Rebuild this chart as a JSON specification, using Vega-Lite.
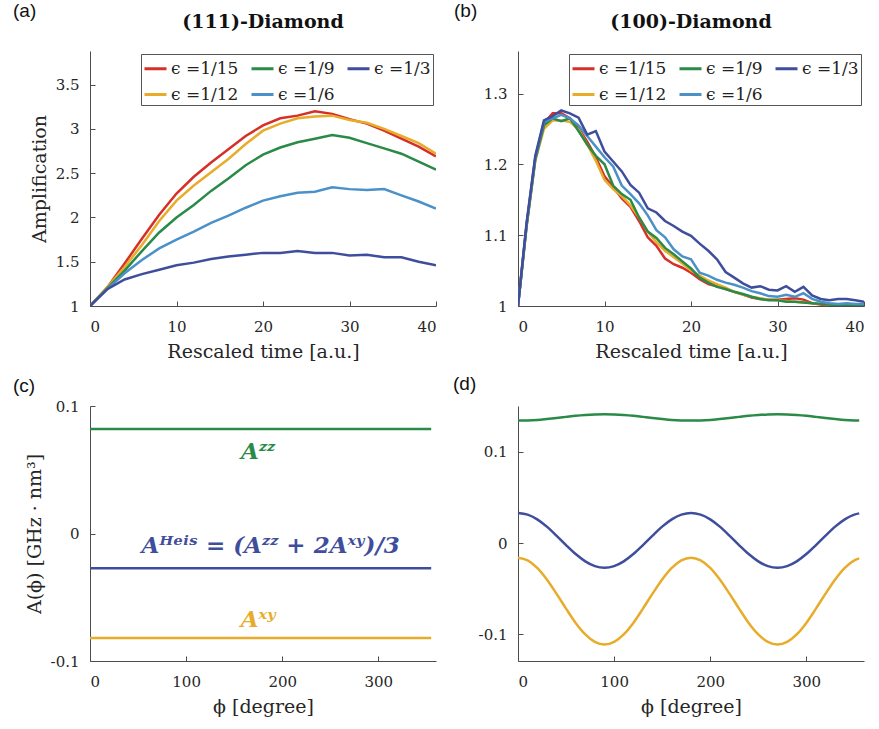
{
  "$schema": "https://vega.github.io/schema/vega-lite/v6.json",
  "background": "white",
  "padding": {"left": 13, "top": 2, "right": 5, "bottom": 5},
  "columns": 2,
  "spacing": {"row": 14, "column": 16},
  "resolve": {"scale": {"color": "independent"}, "legend": {"color": "independent"}},
  "config": {
    "view": {"stroke": null},
    "axis": {
      "grid": false,
      "domainColor": "#4d4d4d",
      "tickColor": "#4d4d4d",
      "tickSize": -5,
      "labelFont": "DejaVu Serif",
      "labelFontSize": 15,
      "labelColor": "#262626",
      "labelPadding": 16,
      "titleFont": "DejaVu Serif",
      "titleFontSize": 19,
      "titleFontWeight": "normal",
      "titleColor": "#262626",
      "titlePadding": 6
    },
    "axisX": {"labelPadding": 18, "titlePadding": 8},
    "title": {"font": "DejaVu Serif", "fontWeight": "bold", "fontSize": 19, "color": "#111111"}
  },
  "concat": [
    {
      "title": {"text": "(a)", "anchor": "start", "frame": "group", "font": "Liberation Sans", "fontWeight": "normal", "fontSize": 19, "dx": -77, "dy": 8, "offset": 0},
      "resolve": {"scale": {"color": "independent"}, "legend": {"color": "independent"}},
      "vconcat": [
        {
          "width": 346,
          "height": 255,
          "title": {"text": "(111)-Diamond", "offset": 19, "frame": "group"},
          "data": {"values": [
            {"eps":"ϵ =1/15","t":0,"amp":1},{"eps":"ϵ =1/15","t":2,"amp":1.21},{"eps":"ϵ =1/15","t":4,"amp":1.48},{"eps":"ϵ =1/15","t":6,"amp":1.76},{"eps":"ϵ =1/15","t":8,"amp":2.03},{"eps":"ϵ =1/15","t":10,"amp":2.27},{"eps":"ϵ =1/15","t":12,"amp":2.46},{"eps":"ϵ =1/15","t":14,"amp":2.62},{"eps":"ϵ =1/15","t":16,"amp":2.77},{"eps":"ϵ =1/15","t":18,"amp":2.92},{"eps":"ϵ =1/15","t":20,"amp":3.04},{"eps":"ϵ =1/15","t":22,"amp":3.12},{"eps":"ϵ =1/15","t":24,"amp":3.15},{"eps":"ϵ =1/15","t":26,"amp":3.2},{"eps":"ϵ =1/15","t":28,"amp":3.17},{"eps":"ϵ =1/15","t":30,"amp":3.11},{"eps":"ϵ =1/15","t":32,"amp":3.06},{"eps":"ϵ =1/15","t":34,"amp":2.98},{"eps":"ϵ =1/15","t":36,"amp":2.89},{"eps":"ϵ =1/15","t":38,"amp":2.8},{"eps":"ϵ =1/15","t":40,"amp":2.69},
            {"eps":"ϵ =1/12","t":0,"amp":1},{"eps":"ϵ =1/12","t":2,"amp":1.21},{"eps":"ϵ =1/12","t":4,"amp":1.44},{"eps":"ϵ =1/12","t":6,"amp":1.69},{"eps":"ϵ =1/12","t":8,"amp":1.96},{"eps":"ϵ =1/12","t":10,"amp":2.19},{"eps":"ϵ =1/12","t":12,"amp":2.36},{"eps":"ϵ =1/12","t":14,"amp":2.51},{"eps":"ϵ =1/12","t":16,"amp":2.66},{"eps":"ϵ =1/12","t":18,"amp":2.83},{"eps":"ϵ =1/12","t":20,"amp":2.98},{"eps":"ϵ =1/12","t":22,"amp":3.06},{"eps":"ϵ =1/12","t":24,"amp":3.12},{"eps":"ϵ =1/12","t":26,"amp":3.14},{"eps":"ϵ =1/12","t":28,"amp":3.15},{"eps":"ϵ =1/12","t":30,"amp":3.1},{"eps":"ϵ =1/12","t":32,"amp":3.07},{"eps":"ϵ =1/12","t":34,"amp":3.0},{"eps":"ϵ =1/12","t":36,"amp":2.92},{"eps":"ϵ =1/12","t":38,"amp":2.84},{"eps":"ϵ =1/12","t":40,"amp":2.72},
            {"eps":"ϵ =1/9","t":0,"amp":1},{"eps":"ϵ =1/9","t":2,"amp":1.2},{"eps":"ϵ =1/9","t":4,"amp":1.4},{"eps":"ϵ =1/9","t":6,"amp":1.62},{"eps":"ϵ =1/9","t":8,"amp":1.83},{"eps":"ϵ =1/9","t":10,"amp":2.0},{"eps":"ϵ =1/9","t":12,"amp":2.14},{"eps":"ϵ =1/9","t":14,"amp":2.3},{"eps":"ϵ =1/9","t":16,"amp":2.44},{"eps":"ϵ =1/9","t":18,"amp":2.59},{"eps":"ϵ =1/9","t":20,"amp":2.71},{"eps":"ϵ =1/9","t":22,"amp":2.79},{"eps":"ϵ =1/9","t":24,"amp":2.85},{"eps":"ϵ =1/9","t":26,"amp":2.89},{"eps":"ϵ =1/9","t":28,"amp":2.93},{"eps":"ϵ =1/9","t":30,"amp":2.9},{"eps":"ϵ =1/9","t":32,"amp":2.84},{"eps":"ϵ =1/9","t":34,"amp":2.78},{"eps":"ϵ =1/9","t":36,"amp":2.72},{"eps":"ϵ =1/9","t":38,"amp":2.63},{"eps":"ϵ =1/9","t":40,"amp":2.54},
            {"eps":"ϵ =1/6","t":0,"amp":1},{"eps":"ϵ =1/6","t":2,"amp":1.19},{"eps":"ϵ =1/6","t":4,"amp":1.37},{"eps":"ϵ =1/6","t":6,"amp":1.52},{"eps":"ϵ =1/6","t":8,"amp":1.65},{"eps":"ϵ =1/6","t":10,"amp":1.75},{"eps":"ϵ =1/6","t":12,"amp":1.84},{"eps":"ϵ =1/6","t":14,"amp":1.94},{"eps":"ϵ =1/6","t":16,"amp":2.02},{"eps":"ϵ =1/6","t":18,"amp":2.11},{"eps":"ϵ =1/6","t":20,"amp":2.19},{"eps":"ϵ =1/6","t":22,"amp":2.24},{"eps":"ϵ =1/6","t":24,"amp":2.28},{"eps":"ϵ =1/6","t":26,"amp":2.29},{"eps":"ϵ =1/6","t":28,"amp":2.34},{"eps":"ϵ =1/6","t":30,"amp":2.32},{"eps":"ϵ =1/6","t":32,"amp":2.31},{"eps":"ϵ =1/6","t":34,"amp":2.32},{"eps":"ϵ =1/6","t":36,"amp":2.25},{"eps":"ϵ =1/6","t":38,"amp":2.18},{"eps":"ϵ =1/6","t":40,"amp":2.1},
            {"eps":"ϵ =1/3","t":0,"amp":1},{"eps":"ϵ =1/3","t":2,"amp":1.19},{"eps":"ϵ =1/3","t":4,"amp":1.3},{"eps":"ϵ =1/3","t":6,"amp":1.36},{"eps":"ϵ =1/3","t":8,"amp":1.41},{"eps":"ϵ =1/3","t":10,"amp":1.46},{"eps":"ϵ =1/3","t":12,"amp":1.49},{"eps":"ϵ =1/3","t":14,"amp":1.53},{"eps":"ϵ =1/3","t":16,"amp":1.56},{"eps":"ϵ =1/3","t":18,"amp":1.58},{"eps":"ϵ =1/3","t":20,"amp":1.6},{"eps":"ϵ =1/3","t":22,"amp":1.6},{"eps":"ϵ =1/3","t":24,"amp":1.62},{"eps":"ϵ =1/3","t":26,"amp":1.6},{"eps":"ϵ =1/3","t":28,"amp":1.6},{"eps":"ϵ =1/3","t":30,"amp":1.57},{"eps":"ϵ =1/3","t":32,"amp":1.58},{"eps":"ϵ =1/3","t":34,"amp":1.55},{"eps":"ϵ =1/3","t":36,"amp":1.55},{"eps":"ϵ =1/3","t":38,"amp":1.5},{"eps":"ϵ =1/3","t":40,"amp":1.46}
          ]},
          "mark": {"type": "line", "strokeWidth": 2.5, "clip": true},
          "encoding": {
            "x": {"field": "t", "type": "quantitative", "scale": {"domain": [0, 40], "nice": false}, "axis": {"values": [0, 10, 20, 30, 40], "title": "Rescaled time [a.u.]"}},
            "y": {"field": "amp", "type": "quantitative", "scale": {"domain": [1, 3.88], "nice": false, "zero": false}, "axis": {"values": [1, 1.5, 2, 2.5, 3, 3.5], "format": ".1~f", "title": "Amplification"}},
            "color": {"field": "eps", "type": "nominal",
              "scale": {"domain": ["ϵ =1/15", "ϵ =1/9", "ϵ =1/3", "ϵ =1/12", "ϵ =1/6"], "range": ["#d62f27", "#2a8a47", "#3f4e9c", "#e8ac2b", "#4b91c8"]},
              "legend": {"title": null, "orient": "top-right", "offset": 3, "columns": 3, "direction": "horizontal", "symbolType": "stroke", "symbolSize": 484, "symbolStrokeWidth": 3, "labelFont": "DejaVu Serif", "labelFontSize": 17, "labelColor": "#222222", "labelOffset": 3, "strokeColor": "#555555", "fillColor": "white", "padding": 2, "rowPadding": 5, "columnPadding": 6}}
          }
        }
      ]
    },
    {
      "title": {"text": "(b)", "anchor": "start", "frame": "group", "font": "Liberation Sans", "fontWeight": "normal", "fontSize": 19, "dx": -64, "dy": 8, "offset": 0},
      "resolve": {"scale": {"color": "independent"}, "legend": {"color": "independent"}},
      "vconcat": [
        {
          "width": 346,
          "height": 255,
          "title": {"text": "(100)-Diamond", "offset": 19, "frame": "group"},
          "data": {"values": [
            {"eps":"ϵ =1/15","t":0,"amp":1},{"eps":"ϵ =1/15","t":1,"amp":1.115},{"eps":"ϵ =1/15","t":2,"amp":1.208},{"eps":"ϵ =1/15","t":3,"amp":1.258},{"eps":"ϵ =1/15","t":4,"amp":1.272},{"eps":"ϵ =1/15","t":5,"amp":1.272},{"eps":"ϵ =1/15","t":6,"amp":1.265},{"eps":"ϵ =1/15","t":7,"amp":1.251},{"eps":"ϵ =1/15","t":8,"amp":1.232},{"eps":"ϵ =1/15","t":9,"amp":1.21},{"eps":"ϵ =1/15","t":10,"amp":1.183},{"eps":"ϵ =1/15","t":11,"amp":1.168},{"eps":"ϵ =1/15","t":12,"amp":1.152},{"eps":"ϵ =1/15","t":13,"amp":1.14},{"eps":"ϵ =1/15","t":14,"amp":1.12},{"eps":"ϵ =1/15","t":15,"amp":1.097},{"eps":"ϵ =1/15","t":16,"amp":1.085},{"eps":"ϵ =1/15","t":17,"amp":1.067},{"eps":"ϵ =1/15","t":18,"amp":1.059},{"eps":"ϵ =1/15","t":19,"amp":1.054},{"eps":"ϵ =1/15","t":20,"amp":1.047},{"eps":"ϵ =1/15","t":21,"amp":1.038},{"eps":"ϵ =1/15","t":22,"amp":1.031},{"eps":"ϵ =1/15","t":23,"amp":1.028},{"eps":"ϵ =1/15","t":24,"amp":1.024},{"eps":"ϵ =1/15","t":25,"amp":1.02},{"eps":"ϵ =1/15","t":26,"amp":1.016},{"eps":"ϵ =1/15","t":27,"amp":1.012},{"eps":"ϵ =1/15","t":28,"amp":1.01},{"eps":"ϵ =1/15","t":29,"amp":1.009},{"eps":"ϵ =1/15","t":30,"amp":1.009},{"eps":"ϵ =1/15","t":31,"amp":1.01},{"eps":"ϵ =1/15","t":32,"amp":1.011},{"eps":"ϵ =1/15","t":33,"amp":1.009},{"eps":"ϵ =1/15","t":34,"amp":1.004},{"eps":"ϵ =1/15","t":35,"amp":1.002},{"eps":"ϵ =1/15","t":36,"amp":1.0},{"eps":"ϵ =1/15","t":37,"amp":1.0},{"eps":"ϵ =1/15","t":38,"amp":1.0},{"eps":"ϵ =1/15","t":39,"amp":1.0},{"eps":"ϵ =1/15","t":40,"amp":1.0},
            {"eps":"ϵ =1/12","t":0,"amp":1},{"eps":"ϵ =1/12","t":1,"amp":1.112},{"eps":"ϵ =1/12","t":2,"amp":1.205},{"eps":"ϵ =1/12","t":3,"amp":1.25},{"eps":"ϵ =1/12","t":4,"amp":1.262},{"eps":"ϵ =1/12","t":5,"amp":1.262},{"eps":"ϵ =1/12","t":6,"amp":1.26},{"eps":"ϵ =1/12","t":7,"amp":1.249},{"eps":"ϵ =1/12","t":8,"amp":1.228},{"eps":"ϵ =1/12","t":9,"amp":1.205},{"eps":"ϵ =1/12","t":10,"amp":1.178},{"eps":"ϵ =1/12","t":11,"amp":1.165},{"eps":"ϵ =1/12","t":12,"amp":1.155},{"eps":"ϵ =1/12","t":13,"amp":1.142},{"eps":"ϵ =1/12","t":14,"amp":1.125},{"eps":"ϵ =1/12","t":15,"amp":1.105},{"eps":"ϵ =1/12","t":16,"amp":1.09},{"eps":"ϵ =1/12","t":17,"amp":1.078},{"eps":"ϵ =1/12","t":18,"amp":1.069},{"eps":"ϵ =1/12","t":19,"amp":1.06},{"eps":"ϵ =1/12","t":20,"amp":1.05},{"eps":"ϵ =1/12","t":21,"amp":1.043},{"eps":"ϵ =1/12","t":22,"amp":1.036},{"eps":"ϵ =1/12","t":23,"amp":1.031},{"eps":"ϵ =1/12","t":24,"amp":1.026},{"eps":"ϵ =1/12","t":25,"amp":1.02},{"eps":"ϵ =1/12","t":26,"amp":1.016},{"eps":"ϵ =1/12","t":27,"amp":1.013},{"eps":"ϵ =1/12","t":28,"amp":1.011},{"eps":"ϵ =1/12","t":29,"amp":1.009},{"eps":"ϵ =1/12","t":30,"amp":1.008},{"eps":"ϵ =1/12","t":31,"amp":1.007},{"eps":"ϵ =1/12","t":32,"amp":1.006},{"eps":"ϵ =1/12","t":33,"amp":1.005},{"eps":"ϵ =1/12","t":34,"amp":1.004},{"eps":"ϵ =1/12","t":35,"amp":1.003},{"eps":"ϵ =1/12","t":36,"amp":1.002},{"eps":"ϵ =1/12","t":37,"amp":1.001},{"eps":"ϵ =1/12","t":38,"amp":1.001},{"eps":"ϵ =1/12","t":39,"amp":1.0},{"eps":"ϵ =1/12","t":40,"amp":1.0},
            {"eps":"ϵ =1/9","t":0,"amp":1},{"eps":"ϵ =1/9","t":1,"amp":1.114},{"eps":"ϵ =1/9","t":2,"amp":1.207},{"eps":"ϵ =1/9","t":3,"amp":1.255},{"eps":"ϵ =1/9","t":4,"amp":1.265},{"eps":"ϵ =1/9","t":5,"amp":1.261},{"eps":"ϵ =1/9","t":6,"amp":1.265},{"eps":"ϵ =1/9","t":7,"amp":1.247},{"eps":"ϵ =1/9","t":8,"amp":1.228},{"eps":"ϵ =1/9","t":9,"amp":1.212},{"eps":"ϵ =1/9","t":10,"amp":1.2},{"eps":"ϵ =1/9","t":11,"amp":1.17},{"eps":"ϵ =1/9","t":12,"amp":1.158},{"eps":"ϵ =1/9","t":13,"amp":1.15},{"eps":"ϵ =1/9","t":14,"amp":1.125},{"eps":"ϵ =1/9","t":15,"amp":1.105},{"eps":"ϵ =1/9","t":16,"amp":1.096},{"eps":"ϵ =1/9","t":17,"amp":1.082},{"eps":"ϵ =1/9","t":18,"amp":1.073},{"eps":"ϵ =1/9","t":19,"amp":1.063},{"eps":"ϵ =1/9","t":20,"amp":1.053},{"eps":"ϵ =1/9","t":21,"amp":1.04},{"eps":"ϵ =1/9","t":22,"amp":1.033},{"eps":"ϵ =1/9","t":23,"amp":1.027},{"eps":"ϵ =1/9","t":24,"amp":1.024},{"eps":"ϵ =1/9","t":25,"amp":1.02},{"eps":"ϵ =1/9","t":26,"amp":1.017},{"eps":"ϵ =1/9","t":27,"amp":1.013},{"eps":"ϵ =1/9","t":28,"amp":1.01},{"eps":"ϵ =1/9","t":29,"amp":1.008},{"eps":"ϵ =1/9","t":30,"amp":1.008},{"eps":"ϵ =1/9","t":31,"amp":1.006},{"eps":"ϵ =1/9","t":32,"amp":1.006},{"eps":"ϵ =1/9","t":33,"amp":1.005},{"eps":"ϵ =1/9","t":34,"amp":1.004},{"eps":"ϵ =1/9","t":35,"amp":1.003},{"eps":"ϵ =1/9","t":36,"amp":1.002},{"eps":"ϵ =1/9","t":37,"amp":1.001},{"eps":"ϵ =1/9","t":38,"amp":1.001},{"eps":"ϵ =1/9","t":39,"amp":1.0},{"eps":"ϵ =1/9","t":40,"amp":1.0},
            {"eps":"ϵ =1/6","t":0,"amp":1},{"eps":"ϵ =1/6","t":1,"amp":1.116},{"eps":"ϵ =1/6","t":2,"amp":1.21},{"eps":"ϵ =1/6","t":3,"amp":1.26},{"eps":"ϵ =1/6","t":4,"amp":1.265},{"eps":"ϵ =1/6","t":5,"amp":1.27},{"eps":"ϵ =1/6","t":6,"amp":1.265},{"eps":"ϵ =1/6","t":7,"amp":1.255},{"eps":"ϵ =1/6","t":8,"amp":1.24},{"eps":"ϵ =1/6","t":9,"amp":1.225},{"eps":"ϵ =1/6","t":10,"amp":1.21},{"eps":"ϵ =1/6","t":11,"amp":1.197},{"eps":"ϵ =1/6","t":12,"amp":1.17},{"eps":"ϵ =1/6","t":13,"amp":1.158},{"eps":"ϵ =1/6","t":14,"amp":1.145},{"eps":"ϵ =1/6","t":15,"amp":1.128},{"eps":"ϵ =1/6","t":16,"amp":1.107},{"eps":"ϵ =1/6","t":17,"amp":1.097},{"eps":"ϵ =1/6","t":18,"amp":1.08},{"eps":"ϵ =1/6","t":19,"amp":1.07},{"eps":"ϵ =1/6","t":20,"amp":1.066},{"eps":"ϵ =1/6","t":21,"amp":1.047},{"eps":"ϵ =1/6","t":22,"amp":1.043},{"eps":"ϵ =1/6","t":23,"amp":1.037},{"eps":"ϵ =1/6","t":24,"amp":1.033},{"eps":"ϵ =1/6","t":25,"amp":1.03},{"eps":"ϵ =1/6","t":26,"amp":1.026},{"eps":"ϵ =1/6","t":27,"amp":1.021},{"eps":"ϵ =1/6","t":28,"amp":1.018},{"eps":"ϵ =1/6","t":29,"amp":1.014},{"eps":"ϵ =1/6","t":30,"amp":1.013},{"eps":"ϵ =1/6","t":31,"amp":1.016},{"eps":"ϵ =1/6","t":32,"amp":1.013},{"eps":"ϵ =1/6","t":33,"amp":1.018},{"eps":"ϵ =1/6","t":34,"amp":1.01},{"eps":"ϵ =1/6","t":35,"amp":1.006},{"eps":"ϵ =1/6","t":36,"amp":1.004},{"eps":"ϵ =1/6","t":37,"amp":1.003},{"eps":"ϵ =1/6","t":38,"amp":1.004},{"eps":"ϵ =1/6","t":39,"amp":1.003},{"eps":"ϵ =1/6","t":40,"amp":1.003},
            {"eps":"ϵ =1/3","t":0,"amp":1},{"eps":"ϵ =1/3","t":1,"amp":1.118},{"eps":"ϵ =1/3","t":2,"amp":1.212},{"eps":"ϵ =1/3","t":3,"amp":1.262},{"eps":"ϵ =1/3","t":4,"amp":1.268},{"eps":"ϵ =1/3","t":5,"amp":1.276},{"eps":"ϵ =1/3","t":6,"amp":1.272},{"eps":"ϵ =1/3","t":7,"amp":1.266},{"eps":"ϵ =1/3","t":8,"amp":1.242},{"eps":"ϵ =1/3","t":9,"amp":1.247},{"eps":"ϵ =1/3","t":10,"amp":1.218},{"eps":"ϵ =1/3","t":11,"amp":1.204},{"eps":"ϵ =1/3","t":12,"amp":1.19},{"eps":"ϵ =1/3","t":13,"amp":1.171},{"eps":"ϵ =1/3","t":14,"amp":1.16},{"eps":"ϵ =1/3","t":15,"amp":1.138},{"eps":"ϵ =1/3","t":16,"amp":1.132},{"eps":"ϵ =1/3","t":17,"amp":1.12},{"eps":"ϵ =1/3","t":18,"amp":1.113},{"eps":"ϵ =1/3","t":19,"amp":1.105},{"eps":"ϵ =1/3","t":20,"amp":1.099},{"eps":"ϵ =1/3","t":21,"amp":1.088},{"eps":"ϵ =1/3","t":22,"amp":1.078},{"eps":"ϵ =1/3","t":23,"amp":1.066},{"eps":"ϵ =1/3","t":24,"amp":1.048},{"eps":"ϵ =1/3","t":25,"amp":1.04},{"eps":"ϵ =1/3","t":26,"amp":1.032},{"eps":"ϵ =1/3","t":27,"amp":1.026},{"eps":"ϵ =1/3","t":28,"amp":1.028},{"eps":"ϵ =1/3","t":29,"amp":1.023},{"eps":"ϵ =1/3","t":30,"amp":1.022},{"eps":"ϵ =1/3","t":31,"amp":1.028},{"eps":"ϵ =1/3","t":32,"amp":1.02},{"eps":"ϵ =1/3","t":33,"amp":1.027},{"eps":"ϵ =1/3","t":34,"amp":1.015},{"eps":"ϵ =1/3","t":35,"amp":1.01},{"eps":"ϵ =1/3","t":36,"amp":1.008},{"eps":"ϵ =1/3","t":37,"amp":1.01},{"eps":"ϵ =1/3","t":38,"amp":1.01},{"eps":"ϵ =1/3","t":39,"amp":1.008},{"eps":"ϵ =1/3","t":40,"amp":1.006}
          ]},
          "mark": {"type": "line", "strokeWidth": 2.5, "clip": true},
          "encoding": {
            "x": {"field": "t", "type": "quantitative", "scale": {"domain": [0, 40], "nice": false}, "axis": {"values": [0, 10, 20, 30, 40], "title": "Rescaled time [a.u.]"}},
            "y": {"field": "amp", "type": "quantitative", "scale": {"domain": [1, 1.36], "nice": false, "zero": false}, "axis": {"values": [1, 1.1, 1.2, 1.3], "format": ".1~f", "title": null}},
            "color": {"field": "eps", "type": "nominal",
              "scale": {"domain": ["ϵ =1/15", "ϵ =1/9", "ϵ =1/3", "ϵ =1/12", "ϵ =1/6"], "range": ["#d62f27", "#2a8a47", "#3f4e9c", "#e8ac2b", "#4b91c8"]},
              "legend": {"title": null, "orient": "top-right", "offset": 3, "columns": 3, "direction": "horizontal", "symbolType": "stroke", "symbolSize": 484, "symbolStrokeWidth": 3, "labelFont": "DejaVu Serif", "labelFontSize": 17, "labelColor": "#222222", "labelOffset": 3, "strokeColor": "#555555", "fillColor": "white", "padding": 2, "rowPadding": 5, "columnPadding": 6}}
          }
        }
      ]
    },
    {
      "title": {"text": "(c)", "anchor": "start", "frame": "group", "font": "Liberation Sans", "fontWeight": "normal", "fontSize": 19, "dx": -77, "offset": 3},
      "resolve": {"scale": {"color": "independent"}, "legend": {"color": "independent"}},
      "vconcat": [
        {
          "width": 346,
          "height": 255,
          "layer": [
            {
              "data": {"values": [
                {"phi":0,"A":0.082,"s":"ZZ"},{"phi":355,"A":0.082,"s":"ZZ"},
                {"phi":0,"A":-0.0273,"s":"Heis"},{"phi":355,"A":-0.0273,"s":"Heis"},
                {"phi":0,"A":-0.082,"s":"XY"},{"phi":355,"A":-0.082,"s":"XY"}
              ]},
              "mark": {"type": "line", "strokeWidth": 2.5},
              "encoding": {
                "x": {"field": "phi", "type": "quantitative", "scale": {"domain": [0, 360], "nice": false}, "axis": {"values": [0, 100, 200, 300], "title": "ϕ [degree]"}},
                "y": {"field": "A", "type": "quantitative", "scale": {"domain": [-0.1, 0.1], "nice": false, "zero": false}, "axis": {"values": [-0.1, 0, 0.1], "format": ".1~f", "labelExpr": "replace(datum.label, '−', '-')", "title": "A(ϕ) [GHz · nm³]"}},
                "color": {"field": "s", "type": "nominal", "scale": {"domain": ["ZZ", "Heis", "XY"], "range": ["#2a8a47", "#3f4e9c", "#e8ac2b"]}, "legend": null}
              }
            },
            {
              "data": {"values": [
                {"phi":175,"A":0.064,"s":"ZZ","label":"Aᶻᶻ"},
                {"phi":188,"A":-0.0098,"s":"Heis","label":"Aᴴᵉⁱˢ = (Aᶻᶻ + 2Aˣʸ)/3"},
                {"phi":175,"A":-0.068,"s":"XY","label":"Aˣʸ"}
              ]},
              "mark": {"type": "text", "font": "DejaVu Serif", "fontStyle": "italic", "fontWeight": "bold", "fontSize": 23, "align": "center", "baseline": "middle"},
              "encoding": {
                "x": {"field": "phi", "type": "quantitative"},
                "y": {"field": "A", "type": "quantitative"},
                "text": {"field": "label"},
                "color": {"field": "s", "type": "nominal", "legend": null}
              }
            }
          ]
        }
      ]
    },
    {
      "title": {"text": "(d)", "anchor": "start", "frame": "group", "font": "Liberation Sans", "fontWeight": "normal", "fontSize": 19, "dx": -65, "offset": 12},
      "resolve": {"scale": {"color": "independent"}, "legend": {"color": "independent"}},
      "vconcat": [
        {
          "width": 346,
          "height": 255,
          "data": {"values": [
            {"phi":0,"A":0.134,"s":"ZZ"},{"phi":10,"A":0.1342,"s":"ZZ"},{"phi":20,"A":0.1348,"s":"ZZ"},{"phi":30,"A":0.1358,"s":"ZZ"},{"phi":40,"A":0.1369,"s":"ZZ"},{"phi":50,"A":0.1381,"s":"ZZ"},{"phi":60,"A":0.1393,"s":"ZZ"},{"phi":70,"A":0.1402,"s":"ZZ"},{"phi":80,"A":0.1408,"s":"ZZ"},{"phi":90,"A":0.141,"s":"ZZ"},{"phi":100,"A":0.1408,"s":"ZZ"},{"phi":110,"A":0.1402,"s":"ZZ"},{"phi":120,"A":0.1393,"s":"ZZ"},{"phi":130,"A":0.1381,"s":"ZZ"},{"phi":140,"A":0.1369,"s":"ZZ"},{"phi":150,"A":0.1358,"s":"ZZ"},{"phi":160,"A":0.1348,"s":"ZZ"},{"phi":170,"A":0.1342,"s":"ZZ"},{"phi":180,"A":0.134,"s":"ZZ"},{"phi":190,"A":0.1342,"s":"ZZ"},{"phi":200,"A":0.1348,"s":"ZZ"},{"phi":210,"A":0.1358,"s":"ZZ"},{"phi":220,"A":0.1369,"s":"ZZ"},{"phi":230,"A":0.1381,"s":"ZZ"},{"phi":240,"A":0.1393,"s":"ZZ"},{"phi":250,"A":0.1402,"s":"ZZ"},{"phi":260,"A":0.1408,"s":"ZZ"},{"phi":270,"A":0.141,"s":"ZZ"},{"phi":280,"A":0.1408,"s":"ZZ"},{"phi":290,"A":0.1402,"s":"ZZ"},{"phi":300,"A":0.1393,"s":"ZZ"},{"phi":310,"A":0.1381,"s":"ZZ"},{"phi":320,"A":0.1369,"s":"ZZ"},{"phi":330,"A":0.1358,"s":"ZZ"},{"phi":340,"A":0.1348,"s":"ZZ"},{"phi":350,"A":0.1342,"s":"ZZ"},{"phi":355,"A":0.1341,"s":"ZZ"},
            {"phi":0,"A":0.033,"s":"Heis"},{"phi":10,"A":0.0312,"s":"Heis"},{"phi":20,"A":0.026,"s":"Heis"},{"phi":30,"A":0.018,"s":"Heis"},{"phi":40,"A":0.0082,"s":"Heis"},{"phi":50,"A":-0.0022,"s":"Heis"},{"phi":60,"A":-0.012,"s":"Heis"},{"phi":70,"A":-0.02,"s":"Heis"},{"phi":80,"A":-0.0252,"s":"Heis"},{"phi":90,"A":-0.027,"s":"Heis"},{"phi":100,"A":-0.0252,"s":"Heis"},{"phi":110,"A":-0.02,"s":"Heis"},{"phi":120,"A":-0.012,"s":"Heis"},{"phi":130,"A":-0.0022,"s":"Heis"},{"phi":140,"A":0.0082,"s":"Heis"},{"phi":150,"A":0.018,"s":"Heis"},{"phi":160,"A":0.026,"s":"Heis"},{"phi":170,"A":0.0312,"s":"Heis"},{"phi":180,"A":0.033,"s":"Heis"},{"phi":190,"A":0.0312,"s":"Heis"},{"phi":200,"A":0.026,"s":"Heis"},{"phi":210,"A":0.018,"s":"Heis"},{"phi":220,"A":0.0082,"s":"Heis"},{"phi":230,"A":-0.0022,"s":"Heis"},{"phi":240,"A":-0.012,"s":"Heis"},{"phi":250,"A":-0.02,"s":"Heis"},{"phi":260,"A":-0.0252,"s":"Heis"},{"phi":270,"A":-0.027,"s":"Heis"},{"phi":280,"A":-0.0252,"s":"Heis"},{"phi":290,"A":-0.02,"s":"Heis"},{"phi":300,"A":-0.012,"s":"Heis"},{"phi":310,"A":-0.0022,"s":"Heis"},{"phi":320,"A":0.0082,"s":"Heis"},{"phi":330,"A":0.018,"s":"Heis"},{"phi":340,"A":0.026,"s":"Heis"},{"phi":350,"A":0.0312,"s":"Heis"},{"phi":355,"A":0.0325,"s":"Heis"},
            {"phi":0,"A":-0.016,"s":"XY"},{"phi":10,"A":-0.0189,"s":"XY"},{"phi":20,"A":-0.0271,"s":"XY"},{"phi":30,"A":-0.0398,"s":"XY"},{"phi":40,"A":-0.0553,"s":"XY"},{"phi":50,"A":-0.0717,"s":"XY"},{"phi":60,"A":-0.0873,"s":"XY"},{"phi":70,"A":-0.0999,"s":"XY"},{"phi":80,"A":-0.1081,"s":"XY"},{"phi":90,"A":-0.111,"s":"XY"},{"phi":100,"A":-0.1081,"s":"XY"},{"phi":110,"A":-0.0999,"s":"XY"},{"phi":120,"A":-0.0873,"s":"XY"},{"phi":130,"A":-0.0717,"s":"XY"},{"phi":140,"A":-0.0553,"s":"XY"},{"phi":150,"A":-0.0398,"s":"XY"},{"phi":160,"A":-0.0271,"s":"XY"},{"phi":170,"A":-0.0189,"s":"XY"},{"phi":180,"A":-0.016,"s":"XY"},{"phi":190,"A":-0.0189,"s":"XY"},{"phi":200,"A":-0.0271,"s":"XY"},{"phi":210,"A":-0.0398,"s":"XY"},{"phi":220,"A":-0.0553,"s":"XY"},{"phi":230,"A":-0.0717,"s":"XY"},{"phi":240,"A":-0.0873,"s":"XY"},{"phi":250,"A":-0.0999,"s":"XY"},{"phi":260,"A":-0.1081,"s":"XY"},{"phi":270,"A":-0.111,"s":"XY"},{"phi":280,"A":-0.1081,"s":"XY"},{"phi":290,"A":-0.0999,"s":"XY"},{"phi":300,"A":-0.0873,"s":"XY"},{"phi":310,"A":-0.0717,"s":"XY"},{"phi":320,"A":-0.0553,"s":"XY"},{"phi":330,"A":-0.0398,"s":"XY"},{"phi":340,"A":-0.0271,"s":"XY"},{"phi":350,"A":-0.0189,"s":"XY"},{"phi":355,"A":-0.0167,"s":"XY"}
          ]},
          "mark": {"type": "line", "strokeWidth": 2.5, "interpolate": "monotone"},
          "encoding": {
            "x": {"field": "phi", "type": "quantitative", "scale": {"domain": [0, 360], "nice": false}, "axis": {"values": [0, 100, 200, 300], "title": "ϕ [degree]"}},
            "y": {"field": "A", "type": "quantitative", "scale": {"domain": [-0.129, 0.15], "nice": false, "zero": false}, "axis": {"values": [-0.1, 0, 0.1], "format": ".1~f", "labelExpr": "replace(datum.label, '−', '-')", "title": null}},
            "color": {"field": "s", "type": "nominal", "scale": {"domain": ["ZZ", "Heis", "XY"], "range": ["#2a8a47", "#3f4e9c", "#e8ac2b"]}, "legend": null}
          }
        }
      ]
    }
  ]
}
